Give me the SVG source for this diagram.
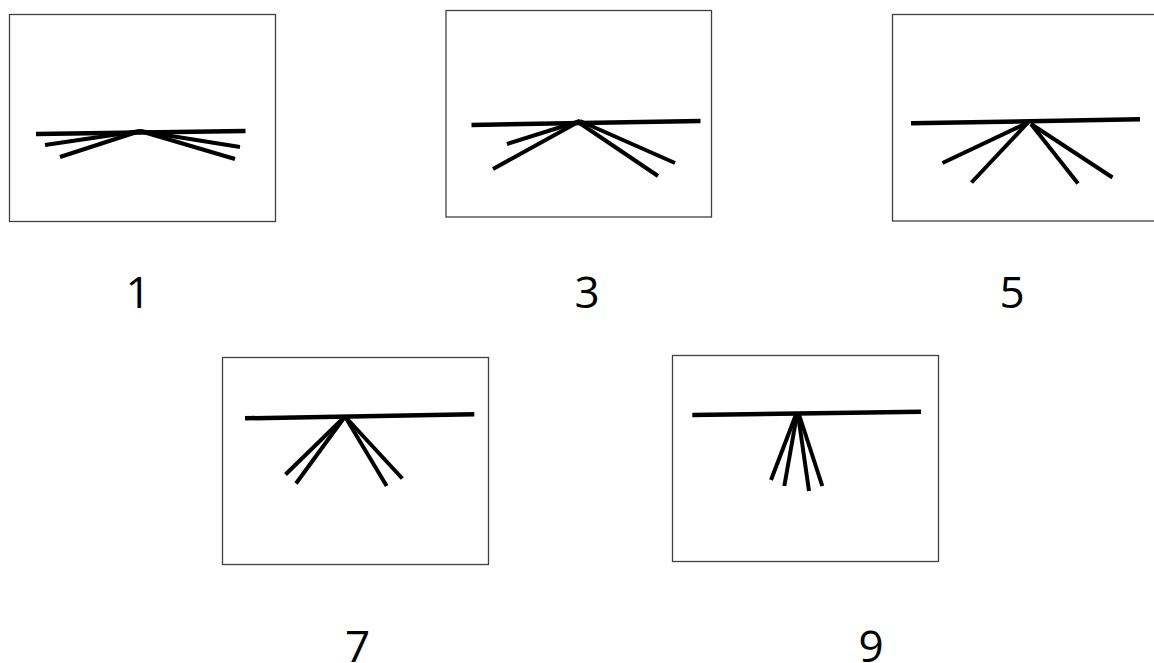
<svg xmlns="http://www.w3.org/2000/svg" width="1154" height="663" viewBox="0 0 1154 663">
<style>
.box{fill:#fff;stroke:#404040;stroke-width:1.3}
.bar{stroke:#000;stroke-width:4.5;stroke-linecap:butt;fill:none}
.leg{stroke:#000;stroke-width:4;stroke-linecap:butt;fill:none}
.lbl{font-family:"Open Sans","DejaVu Sans",sans-serif;font-size:44px;fill:#000;text-anchor:middle}
</style>
<rect width="1154" height="663" fill="#fff"/>
<g id="panel1">
<rect class="box" x="9.5" y="14.5" width="266" height="207"/>
<line class="bar" x1="36" y1="134" x2="245.5" y2="131"/>
<line class="leg" x1="140" y1="131" x2="45" y2="145"/>
<line class="leg" x1="140" y1="131" x2="60" y2="157"/>
<line class="leg" x1="140" y1="131" x2="240" y2="147"/>
<line class="leg" x1="140" y1="131" x2="235" y2="159"/>
<text class="lbl" x="138" y="307.5">1</text>
</g>
<g id="panel3">
<rect class="box" x="446" y="10.5" width="265.5" height="206.5"/>
<line class="bar" x1="471.5" y1="125" x2="700.5" y2="121"/>
<line class="leg" x1="580" y1="121" x2="507" y2="144"/>
<line class="leg" x1="580" y1="121" x2="493" y2="169"/>
<line class="leg" x1="580" y1="121" x2="675" y2="163"/>
<line class="leg" x1="578" y1="122" x2="658" y2="176"/>
<text class="lbl" x="587" y="307.5">3</text>
</g>
<g id="panel5">
<rect class="box" x="892.5" y="14.5" width="270" height="206.5"/>
<line class="bar" x1="911" y1="123.3" x2="1140" y2="119.3"/>
<line class="leg" x1="1028" y1="122.5" x2="942.5" y2="163"/>
<line class="leg" x1="1028" y1="122.5" x2="971.5" y2="182.5"/>
<line class="leg" x1="1031" y1="124" x2="1078" y2="183.5"/>
<line class="leg" x1="1031" y1="124" x2="1112.5" y2="177.5"/>
<text class="lbl" x="1012" y="307.5">5</text>
</g>
<g id="panel7">
<rect class="box" x="222.5" y="357.5" width="266" height="207"/>
<line class="bar" x1="245" y1="418.3" x2="474.3" y2="414.3"/>
<line class="leg" x1="345" y1="416.5" x2="285.5" y2="474.5"/>
<line class="leg" x1="345" y1="416.5" x2="296" y2="483.5"/>
<line class="leg" x1="345" y1="416.5" x2="386.7" y2="486"/>
<line class="leg" x1="345" y1="416.5" x2="402.3" y2="478.5"/>
<text class="lbl" x="357.5" y="662">7</text>
</g>
<g id="panel9">
<rect class="box" x="672.5" y="355.5" width="266" height="206"/>
<line class="bar" x1="692.3" y1="415" x2="921" y2="411.7"/>
<line class="leg" x1="796" y1="414.5" x2="771" y2="480"/>
<line class="leg" x1="797" y1="414.5" x2="784.3" y2="486"/>
<line class="leg" x1="798" y1="414.5" x2="809" y2="491"/>
<line class="leg" x1="799" y1="414.5" x2="822.3" y2="486"/>
<text class="lbl" x="871" y="662">9</text>
</g>
</svg>
